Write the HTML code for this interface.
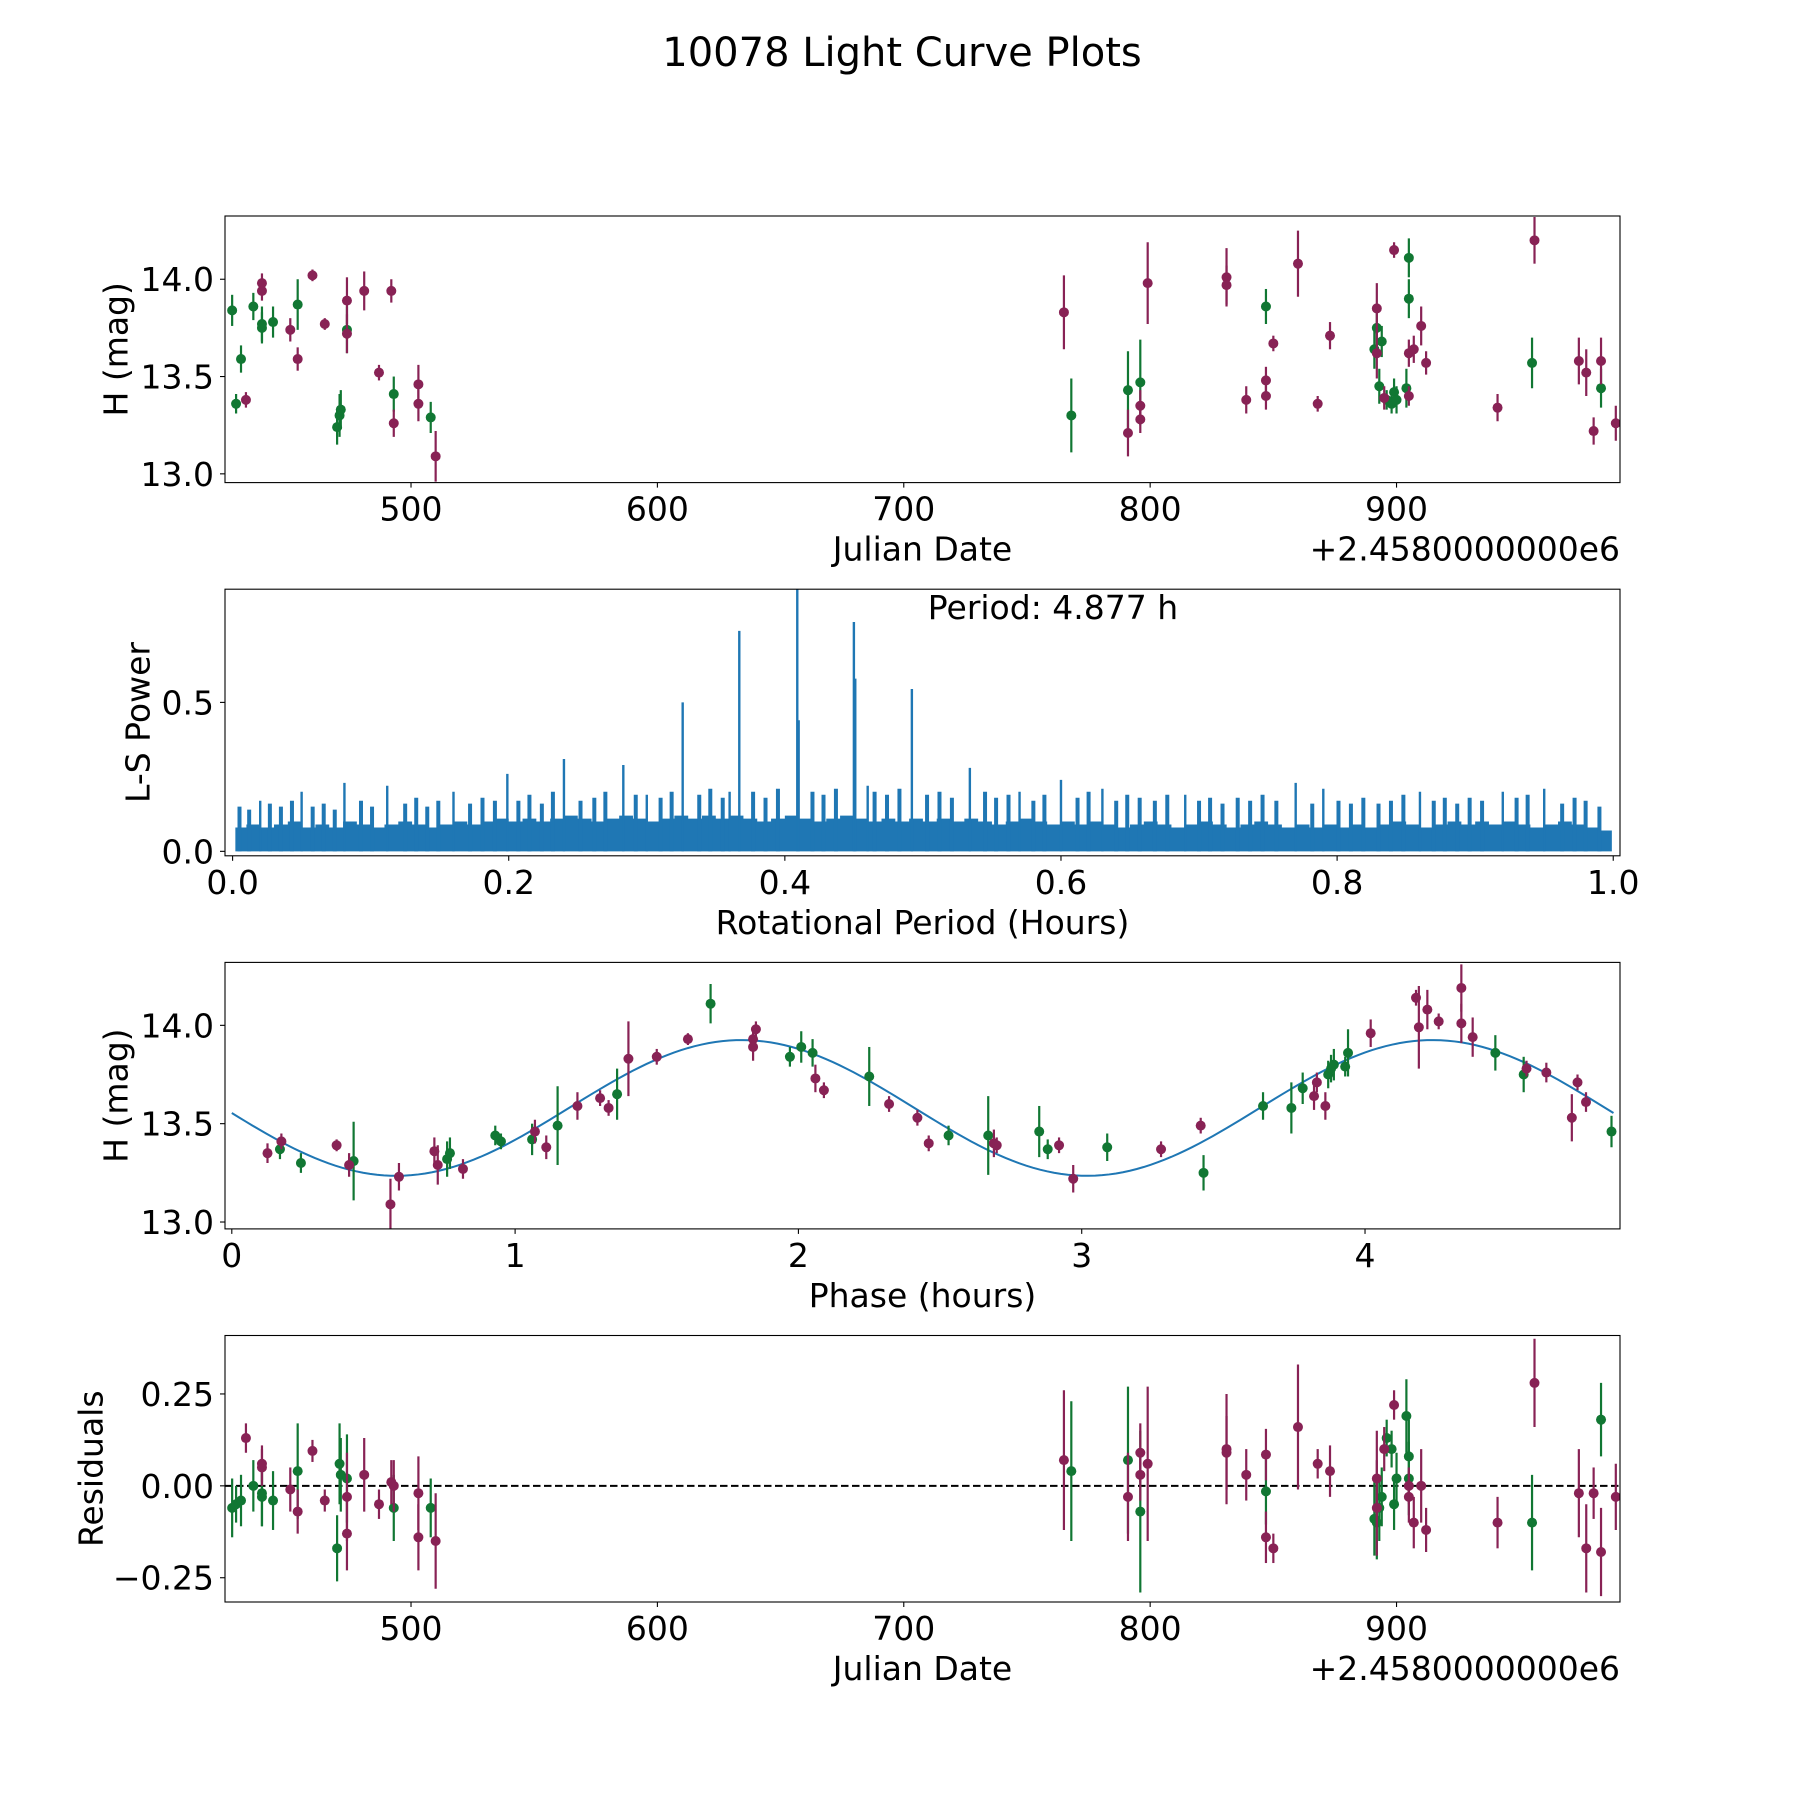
<!DOCTYPE html>
<html><head><meta charset="utf-8">
<style>
html,body{margin:0;padding:0;background:#fff;}
svg{display:block;font-family:"DejaVu Sans","Liberation Sans",sans-serif;}
</style></head>
<body>
<svg id="fig" width="1800" height="1800" viewBox="0 0 1800 1800" xmlns="http://www.w3.org/2000/svg">
<rect width="1800" height="1800" fill="#fff"/>
<text x="902" y="66" font-size="40" text-anchor="middle">10078 Light Curve Plots</text>
</svg>
<script>
// ---------- data ----------
const greenJD = [427.4,429,431,436,439.5,439.5,444,454,470,471,471.5,474,493,508,768,791,796,847,891,892,893,894,896,898,899,900,904,905,905,955,983];
const greenMag = [13.84,13.36,13.59,13.86,13.77,13.75,13.78,13.87,13.24,13.30,13.33,13.74,13.41,13.29,13.30,13.43,13.47,13.86,13.64,13.75,13.45,13.68,13.38,13.36,13.42,13.38,13.44,13.90,14.11,13.57,13.44];
const greenErr = [0.08,0.05,0.07,0.07,0.09,0.08,0.08,0.13,0.09,0.11,0.1,0.12,0.09,0.08,0.19,0.2,0.22,0.09,0.1,0.1,0.09,0.08,0.05,0.05,0.07,0.07,0.1,0.1,0.1,0.13,0.1];
const greenRes = [-0.06,-0.05,-0.04,0.0,-0.02,-0.03,-0.04,0.04,-0.17,0.06,0.03,0.02,-0.06,-0.06,0.04,0.07,-0.07,-0.015,-0.09,-0.10,-0.06,-0.03,0.13,0.10,-0.05,0.02,0.19,0.08,0.02,-0.10,0.18];
const magJD = [433,439.5,439.5,451,454,460,465,474,474,481,487,492,493,503,503,510,765,791,796,796,799,831,831,839,847,847,850,860,868,873,892,892,895,899,905,905,907,910,912,941,956,974,977,980,983,989];
const magMag = [13.38,13.98,13.94,13.74,13.59,14.02,13.77,13.89,13.72,13.94,13.52,13.94,13.26,13.46,13.36,13.09,13.83,13.21,13.35,13.28,13.98,14.01,13.97,13.38,13.48,13.40,13.67,14.08,13.36,13.71,13.85,13.62,13.39,14.15,13.62,13.40,13.64,13.76,13.57,13.34,14.20,13.58,13.52,13.22,13.58,13.26];
const magErr = [0.04,0.05,0.05,0.06,0.06,0.03,0.03,0.12,0.1,0.1,0.04,0.06,0.07,0.1,0.09,0.13,0.19,0.12,0.08,0.07,0.21,0.15,0.1,0.07,0.07,0.07,0.04,0.17,0.04,0.07,0.13,0.13,0.06,0.04,0.07,0.05,0.07,0.1,0.06,0.07,0.12,0.12,0.12,0.07,0.12,0.09];
const magRes = [0.13,0.05,0.06,-0.01,-0.07,0.095,-0.04,-0.03,-0.13,0.03,-0.05,0.01,0.0,-0.02,-0.14,-0.15,0.07,-0.03,0.09,0.03,0.06,0.10,0.09,0.03,0.085,-0.14,-0.17,0.16,0.06,0.04,-0.06,0.02,0.10,0.22,-0.03,0.0,-0.10,0.0,-0.12,-0.10,0.28,-0.02,-0.17,-0.02,-0.18,-0.03];

const magPhase = [0.126,0.175,0.37,0.414,0.56,0.59,0.715,0.727,0.816,1.07,1.11,1.22,1.30,1.33,1.40,1.50,1.61,1.84,1.84,1.85,2.06,2.09,2.32,2.42,2.46,2.69,2.70,2.92,2.97,3.28,3.42,3.82,3.83,3.86,4.02,4.18,4.19,4.22,4.26,4.34,4.34,4.38,4.57,4.64,4.73,4.75,4.78];
const magPhaseMag = [13.35,13.41,13.39,13.29,13.09,13.23,13.36,13.29,13.27,13.46,13.38,13.59,13.63,13.58,13.83,13.84,13.93,13.93,13.89,13.98,13.73,13.67,13.60,13.53,13.40,13.40,13.39,13.39,13.22,13.37,13.49,13.64,13.71,13.59,13.96,14.14,13.99,14.08,14.02,14.01,14.19,13.94,13.78,13.76,13.53,13.71,13.61];
const magPhaseErr = [0.05,0.04,0.03,0.06,0.13,0.07,0.07,0.1,0.05,0.06,0.06,0.07,0.04,0.04,0.19,0.04,0.03,0.06,0.07,0.04,0.07,0.04,0.04,0.04,0.04,0.07,0.04,0.04,0.07,0.04,0.04,0.07,0.05,0.07,0.07,0.04,0.21,0.1,0.04,0.1,0.12,0.1,0.04,0.05,0.12,0.04,0.05];
const greenPhase = [0.17,0.244,0.43,0.76,0.77,0.93,0.95,1.06,1.15,1.36,1.69,1.97,2.01,2.05,2.25,2.53,2.67,2.85,2.88,3.09,3.43,3.64,3.74,3.78,3.87,3.88,3.89,3.93,3.94,4.46,4.56,4.87];
const greenPhaseMag = [13.37,13.30,13.31,13.32,13.35,13.44,13.41,13.42,13.49,13.65,14.11,13.84,13.89,13.86,13.74,13.44,13.44,13.46,13.37,13.38,13.25,13.59,13.58,13.68,13.75,13.78,13.80,13.79,13.86,13.86,13.75,13.46];
const greenPhaseErr = [0.05,0.05,0.2,0.09,0.08,0.05,0.04,0.08,0.2,0.13,0.1,0.05,0.08,0.07,0.15,0.05,0.2,0.13,0.05,0.07,0.09,0.07,0.13,0.08,0.07,0.07,0.08,0.05,0.12,0.09,0.09,0.08];
// fitted sinusoid parameters: mean, amplitude, period (h), phase offset (rad)
const fitParams = [13.58, 0.345, 4.877, -3.067];

const lsEnvelopeX = [0.00,0.01,0.02,0.03,0.04,0.05,0.06,0.07,0.08,0.09,0.10,0.11,0.12,0.13,0.14,0.15,0.16,0.17,0.18,0.19,0.20,0.21,0.22,0.23,0.24,0.25,0.26,0.27,0.28,0.29,0.30,0.31,0.32,0.33,0.34,0.35,0.36,0.37,0.38,0.39,0.40,0.41,0.42,0.43,0.44,0.45,0.46,0.47,0.48,0.49,0.50,0.51,0.52,0.53,0.54,0.55,0.56,0.57,0.58,0.59,0.60,0.61,0.62,0.63,0.64,0.65,0.66,0.67,0.68,0.69,0.70,0.71,0.72,0.73,0.74,0.75,0.76,0.77,0.78,0.79,0.80,0.81,0.82,0.83,0.84,0.85,0.86,0.87,0.88,0.89,0.90,0.91,0.92,0.93,0.94,0.95,0.96,0.97,0.98,0.99];
const lsEnvelope = [0.08,0.09,0.08,0.09,0.10,0.08,0.09,0.08,0.10,0.09,0.08,0.09,0.10,0.09,0.08,0.09,0.10,0.09,0.10,0.11,0.10,0.11,0.10,0.11,0.12,0.11,0.10,0.11,0.12,0.11,0.10,0.11,0.12,0.11,0.12,0.11,0.12,0.11,0.10,0.11,0.12,0.11,0.10,0.11,0.12,0.11,0.10,0.11,0.10,0.11,0.10,0.11,0.10,0.11,0.10,0.09,0.10,0.11,0.10,0.09,0.10,0.09,0.10,0.09,0.08,0.09,0.10,0.09,0.08,0.09,0.10,0.09,0.08,0.09,0.10,0.09,0.08,0.09,0.08,0.09,0.08,0.09,0.08,0.09,0.10,0.09,0.08,0.09,0.10,0.09,0.10,0.09,0.10,0.09,0.08,0.09,0.10,0.09,0.08,0.07];
const lsSpikeX = [0.409,0.45,0.367,0.492,0.326,0.41,0.451,0.240,0.283,0.534,0.199,0.081,0.112,0.05,0.16,0.36,0.46,0.57,0.60,0.63,0.77,0.79,0.86,0.95,0.02,0.30,0.69,0.92];
const lsSpikeY = [0.88,0.77,0.74,0.545,0.50,0.44,0.58,0.31,0.29,0.28,0.26,0.23,0.22,0.20,0.20,0.20,0.22,0.20,0.24,0.21,0.23,0.21,0.20,0.21,0.17,0.19,0.19,0.2];
const lsMinorX = [0.005,0.012,0.027,0.035,0.043,0.058,0.066,0.074,0.093,0.101,0.125,0.133,0.141,0.149,0.172,0.181,0.19,0.207,0.215,0.224,0.232,0.252,0.262,0.27,0.292,0.31,0.318,0.338,0.346,0.355,0.377,0.386,0.395,0.42,0.428,0.437,0.465,0.474,0.483,0.503,0.512,0.521,0.545,0.553,0.562,0.58,0.588,0.612,0.62,0.64,0.648,0.657,0.668,0.677,0.7,0.708,0.717,0.728,0.737,0.746,0.756,0.782,0.801,0.81,0.819,0.83,0.839,0.848,0.87,0.878,0.887,0.896,0.905,0.93,0.938,0.963,0.972,0.98,0.99];
const lsMinorY = [0.15,0.14,0.16,0.15,0.17,0.15,0.16,0.14,0.17,0.15,0.16,0.18,0.15,0.17,0.16,0.18,0.17,0.17,0.19,0.16,0.2,0.17,0.18,0.2,0.19,0.18,0.2,0.19,0.21,0.18,0.2,0.18,0.21,0.2,0.19,0.21,0.2,0.19,0.21,0.19,0.2,0.18,0.2,0.18,0.19,0.17,0.19,0.18,0.2,0.17,0.19,0.18,0.17,0.19,0.17,0.18,0.16,0.18,0.17,0.19,0.17,0.16,0.17,0.16,0.18,0.16,0.17,0.19,0.17,0.18,0.16,0.18,0.17,0.18,0.19,0.16,0.18,0.17,0.15];

const xTicksJD = [500,600,700,800,900];
const yTicksMag = [13.0,13.5,14.0];
const yTickMagLabels = ["13.0","13.5","14.0"];
const xTicksLS = [0.0,0.2,0.4,0.6,0.8,1.0];
const xTickLSLabels = ["0.0","0.2","0.4","0.6","0.8","1.0"];
const yTicksLS = [0.0,0.5];
const yTickLSLabels = ["0.0","0.5"];
const xTicksPhase = [0,1,2,3,4];
const yTicksRes = [-0.25,0.0,0.25];
const yTickResLabels = ["\u22120.25","0.00","0.25"];

// ---------- drawing ----------
const NS = "http://www.w3.org/2000/svg";
const svg = document.getElementById('fig');
const GREEN = "#117733", MAG = "#882255", BLUE = "#1f77b4";
const L = 225, R = 1620, FS = 33;
function mk(tag, attrs, parent){ const e = document.createElementNS(NS, tag); for (const k in attrs) e.setAttribute(k, attrs[k]); (parent||svg).appendChild(e); return e; }
function lin(d0,d1,r0,r1){ return v => r0 + (v-d0)*(r1-r0)/(d1-d0); }

function makeAxes(name, top, bottom, xd, yd){
  const g = mk('g', {});
  
  
  const clipId = name + '-clip';
  const cp = mk('clipPath', {id: clipId}, g);
  mk('rect', {x: L, y: top, width: R-L, height: bottom-top}, cp);
  const plot = mk('g', {'clip-path': 'url(#' + clipId + ')'}, g);
  
  
  return {g, plot, top, bottom, x: lin(xd[0], xd[1], L, R), y: lin(yd[0], yd[1], bottom, top)};
}
function frame(ax){
  const f = mk('rect', {x: L, y: ax.top, width: R-L, height: ax.bottom-ax.top, fill: 'none', stroke: '#000', 'stroke-width': 1.1}, ax.g);
  
  
}
function xTicks(ax, vals, labels){
  vals.forEach((v,i) => {
    const px = ax.x(v);
    const t = mk('line', {x1: px, x2: px, y1: ax.bottom, y2: ax.bottom+5, stroke: '#000', 'stroke-width': 1.1}, ax.g);
    
    
    const tx = mk('text', {x: px, y: ax.bottom + 38, 'font-size': FS, 'text-anchor': 'middle'}, ax.g);
    
    
    tx.textContent = labels ? labels[i] : String(v);
  });
}
function yTicks(ax, vals, labels){
  vals.forEach((v,i) => {
    const py = ax.y(v);
    const t = mk('line', {x1: L-5, x2: L, y1: py, y2: py, stroke: '#000', 'stroke-width': 1.1}, ax.g);
    
    
    const tx = mk('text', {x: L-11, y: py + 12, 'font-size': FS, 'text-anchor': 'end'}, ax.g);
    
    
    tx.textContent = labels[i];
  });
}
function xLabel(ax, text){
  const t = mk('text', {x: (L+R)/2, y: ax.bottom + 78, 'font-size': FS, 'text-anchor': 'middle'}, ax.g);
  
  
  t.textContent = text;
}
function yLabel(ax, text, cx){
  const cy = (ax.top+ax.bottom)/2;
  const t = mk('text', {x: cx, y: cy, 'font-size': FS, 'text-anchor': 'middle', 'dominant-baseline': 'central', transform: 'rotate(-90 ' + cx + ' ' + cy + ')'}, ax.g);
  
  
  t.textContent = text;
}
function offsetText(ax){
  const t = mk('text', {x: R, y: ax.bottom + 78, 'font-size': FS, 'text-anchor': 'end'}, ax.g);
  
  
  t.textContent = '+2.4580000000e6';
}
function points(ax, xs, ys, errs, color, name){
  xs.forEach((xv,i) => {
    const px = ax.x(xv), py = ax.y(ys[i]);
    const e = mk('line', {x1: px, x2: px, y1: ax.y(ys[i]-errs[i]), y2: ax.y(ys[i]+errs[i]), stroke: color, 'stroke-width': 2.2}, ax.plot);
    
    
    const c = mk('circle', {cx: px, cy: py, r: 5, fill: color}, ax.plot);
    
    
  });
}

// Panel 1
const ax1 = makeAxes('light-curve-panel', 216, 482.6, [424.5, 990.7], [12.955, 14.325]);
points(ax1, greenJD, greenMag, greenErr, GREEN, 'green-filter');
points(ax1, magJD, magMag, magErr, MAG, 'red-filter');
frame(ax1); xTicks(ax1, xTicksJD); yTicks(ax1, yTicksMag, yTickMagLabels);
xLabel(ax1, 'Julian Date'); offsetText(ax1); yLabel(ax1, 'H (mag)', 116);

// Panel 2: periodogram
const ax2 = makeAxes('periodogram-panel', 589.2, 855.8, [-0.0055, 1.0049], [-0.015, 0.88]);
(function(){
  let d = 'M' + ax2.x(0.002) + ' ' + ax2.y(0);
  lsEnvelopeX.forEach((xv,i) => {
    const x0 = ax2.x(Math.max(xv, 0.002)), x1 = ax2.x(Math.min(xv + 0.01, 0.999));
    d += ' L' + x0 + ' ' + ax2.y(lsEnvelope[i]) + ' L' + x1 + ' ' + ax2.y(lsEnvelope[i]);
  });
  d += ' L' + ax2.x(0.999) + ' ' + ax2.y(0) + ' Z';
  const p = mk('path', {d: d, fill: BLUE}, ax2.plot);
  
  
  lsMinorX.forEach((xv,i) => {
    const px = ax2.x(xv);
    const s = mk('line', {x1: px, x2: px, y1: ax2.y(0), y2: ax2.y(lsMinorY[i]), stroke: BLUE, 'stroke-width': 4}, ax2.plot);
    
    
  });
  lsSpikeX.forEach((xv,i) => {
    const px = ax2.x(xv);
    const s = mk('line', {x1: px, x2: px, y1: ax2.y(0), y2: ax2.y(lsSpikeY[i]), stroke: BLUE, 'stroke-width': 2.4}, ax2.plot);
    
    
  });
})();
frame(ax2); xTicks(ax2, xTicksLS, xTickLSLabels); yTicks(ax2, yTicksLS, yTickLSLabels);
xLabel(ax2, 'Rotational Period (Hours)'); yLabel(ax2, 'L-S Power', 138);
(function(){
  const t = mk('text', {x: 1053, y: 619, 'font-size': FS, 'text-anchor': 'middle'}, ax2.g);
  
  
  t.textContent = 'Period: 4.877 h';
})();

// Panel 3
const ax3 = makeAxes('phased-curve-panel', 962.4, 1228.9, [-0.024, 4.90], [12.965, 14.32]);
(function(){
  let d = '';
  for (let k = 0; k <= 200; k++){
    const p = fitParams[2] * k / 200;
    const v = fitParams[0] + fitParams[1] * Math.sin(4 * Math.PI * p / fitParams[2] + fitParams[3]);
    d += (k ? ' L' : 'M') + ax3.x(p).toFixed(2) + ' ' + ax3.y(v).toFixed(2);
  }
  const c = mk('path', {d: d, fill: 'none', stroke: BLUE, 'stroke-width': 2}, ax3.plot);
  
  
})();
points(ax3, greenPhase, greenPhaseMag, greenPhaseErr, GREEN, 'green-filter');
points(ax3, magPhase, magPhaseMag, magPhaseErr, MAG, 'red-filter');
frame(ax3); xTicks(ax3, xTicksPhase); yTicks(ax3, yTicksMag, yTickMagLabels);
xLabel(ax3, 'Phase (hours)'); yLabel(ax3, 'H (mag)', 116);

// Panel 4
const ax4 = makeAxes('residuals-panel', 1335.5, 1602, [424.5, 990.7], [-0.316, 0.409]);
(function(){
  const z = mk('line', {x1: L, x2: R, y1: ax4.y(0), y2: ax4.y(0), stroke: '#000', 'stroke-width': 2, 'stroke-dasharray': '7.5,3.5'}, ax4.plot);
  
  
})();
points(ax4, greenJD, greenRes, greenErr, GREEN, 'green-filter');
points(ax4, magJD, magRes, magErr, MAG, 'red-filter');
frame(ax4); xTicks(ax4, xTicksJD); yTicks(ax4, yTicksRes, yTickResLabels);
xLabel(ax4, 'Julian Date'); offsetText(ax4); yLabel(ax4, 'Residuals', 91);
</script>
</body></html>
